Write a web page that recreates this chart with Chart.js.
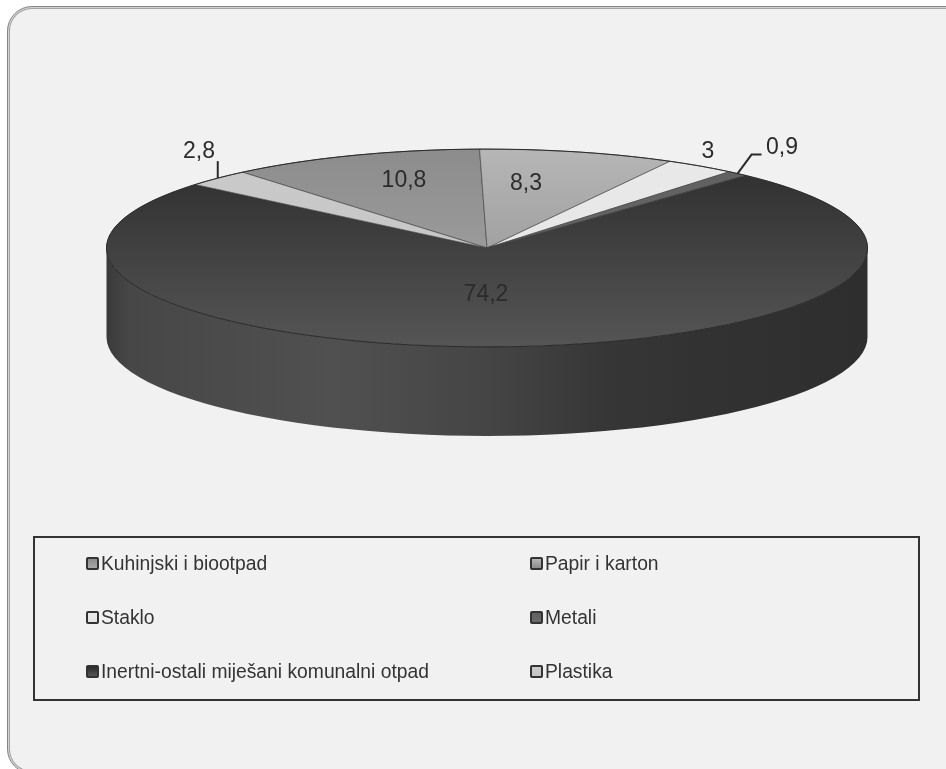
<!DOCTYPE html>
<html>
<head>
<meta charset="utf-8">
<script src="https://cdn.jsdelivr.net/npm/chart.js@4"></script>
<style>
  html, body { margin: 0; padding: 0; width: 946px; height: 769px; overflow: hidden; background: #fff; }
  #panel { position: absolute; left: 7px; top: 6px; width: 1000px; height: 768px; box-sizing: border-box;
           background: #f1f1f1; border: 1px solid #858585; border-radius: 25px;
           box-shadow: inset 0 0 0 1px #d4d4d4, inset 0 0 0 2px #a4a4a4; }
  canvas { position: absolute; left: 0; top: 0; }
  #legend { position: absolute; left: 33px; top: 536px; width: 887px; height: 165px; box-sizing: border-box;
            border: 2px solid #333; }
  .item { position: absolute; font: 19.3px "Liberation Sans", Arial, sans-serif; color: #333; line-height: 22px; white-space: nowrap; }
  .swatch { position: absolute; left: -15px; top: 4px; width: 13px; height: 13px; box-sizing: border-box;
            border: 2px solid #333; border-radius: 2px; }
</style>
</head>
<body>
<div id="panel"></div>
<canvas id="pie" width="946" height="769"></canvas>
<div id="legend"></div>
<script>
// Podaci ocitani sa slike
const categories = ['Kuhinjski i biootpad', 'Papir i karton', 'Staklo', 'Metali', 'Inertni-ostali miješani komunalni otpad', 'Plastika'];
const values = [10.8, 8.3, 3, 0.9, 74.2, 2.8];
const valueLabels = ['10,8', '8,3', '3', '0,9', '74,2', '2,8'];

// Izgled
const topColors = ['#8c8c8c', '#b6b6b6', '#e9e9e9', '#606060', '#2c2c2c', '#cacaca'];
const bottomColors = ['#a8a8a8', '#8c8c8c', '#e4e4e4', '#6a6a6a', '#555555', '#c4c4c4'];
const labelOffsets = [[-83, -67], [39, -64], [221, -96], [295, -100], [-1, 47], [-288, -96]];

const SQUASH = 0.26;
const CENTER_Y = 248;
const DEPTH = 89;

function wallPath(ctx, a, start, end) {
    const n = 60;
    ctx.beginPath();
    for (let i = 0; i <= n; i++) {
        const t = start + (end - start) * i / n;
        const px = a.x + a.outerRadius * Math.cos(t);
        const py = CENTER_Y + a.outerRadius * SQUASH * Math.sin(t);
        if (i === 0) ctx.moveTo(px, py); else ctx.lineTo(px, py);
    }
    for (let i = n; i >= 0; i--) {
        const t = start + (end - start) * i / n;
        ctx.lineTo(a.x + a.outerRadius * Math.cos(t), CENTER_Y + DEPTH + a.outerRadius * SQUASH * Math.sin(t));
    }
    ctx.closePath();
}

const pie3d = {
    id: 'pie3d',
    beforeDatasetsDraw(chart) {
        const ctx = chart.ctx;
        const arcs = chart.getDatasetMeta(0).data;
        const r = arcs[0].outerRadius, x = arcs[0].x, y = arcs[0].y;

        // bocna stijena, samo prednja polovica
        const wall = ctx.createLinearGradient(x - r, 0, x + r, 0);
        wall.addColorStop(0, '#3a3a3a');
        wall.addColorStop(0.03, '#474747');
        wall.addColorStop(0.3, '#505050');
        wall.addColorStop(0.5, '#454545');
        wall.addColorStop(0.66, '#363636');
        wall.addColorStop(0.78, '#323232');
        wall.addColorStop(1, '#2e2e2e');
        ctx.save();
        wallPath(ctx, arcs[0], 0, Math.PI);
        ctx.fillStyle = wall;
        ctx.fill();
        ctx.restore();

        // gornja ploha se spljosti
        ctx.save();
        ctx.translate(0, CENTER_Y);
        ctx.scale(1, SQUASH);
        ctx.translate(0, -y);
    },
    afterDatasetsDraw(chart) {
        const ctx = chart.ctx;
        ctx.restore();
        const arcs = chart.getDatasetMeta(0).data;
        const a = arcs[0];

        ctx.save();
        // rub gornje plohe
        ctx.strokeStyle = '#2a2a2a';
        ctx.lineWidth = 1;
        ctx.beginPath();
        ctx.ellipse(a.x, CENTER_Y, a.outerRadius, a.outerRadius * SQUASH, 0, 0, 2 * Math.PI);
        ctx.stroke();

        // oznake vrijednosti
        ctx.font = '23px "Liberation Sans", Arial, sans-serif';
        ctx.fillStyle = '#2b2b2b';
        ctx.textAlign = 'center';
        ctx.textBaseline = 'middle';
        valueLabels.forEach((txt, i) => {
            ctx.fillText(txt, a.x + labelOffsets[i][0], CENTER_Y + labelOffsets[i][1]);
        });

        // linije do malih isjecaka
        ctx.strokeStyle = '#2b2b2b';
        ctx.lineWidth = 2;
        const rim = i => {
            const m = (arcs[i].startAngle + arcs[i].endAngle) / 2;
            return [a.x + a.outerRadius * Math.cos(m), CENTER_Y + a.outerRadius * SQUASH * Math.sin(m)];
        };
        const p = rim(5);
        ctx.beginPath();
        ctx.moveTo(p[0], p[1]);
        ctx.lineTo(p[0], p[1] - 17);
        ctx.stroke();
        const q = rim(3);
        ctx.beginPath();
        ctx.moveTo(q[0], q[1]);
        ctx.lineTo(q[0] + 14, q[1] - 19);
        ctx.lineTo(q[0] + 24, q[1] - 19);
        ctx.stroke();
        ctx.restore();
    }
};

const cv = document.getElementById('pie');
const g = cv.getContext('2d');
const fills = values.map((v, i) => {
    const grad = g.createLinearGradient(0, 3, 0, 765);
    grad.addColorStop(0, topColors[i]);
    grad.addColorStop(1, bottomColors[i]);
    return grad;
});

new Chart(cv, {
    type: 'pie',
    data: {
        labels: categories,
        datasets: [{
            data: values,
            backgroundColor: fills,
            borderColor: '#404040',
            borderWidth: 1
        }]
    },
    options: {
        responsive: false,
        animation: false,
        rotation: -40,
        layout: { padding: { left: 106, right: 78, top: 3, bottom: 4 } },
        plugins: { legend: { display: false }, tooltip: { enabled: false } }
    },
    plugins: [pie3d]
});

// Legenda u dva stupca
const legend = document.getElementById('legend');
categories.forEach((name, i) => {
    const row = Math.floor(i / 2), col = i % 2;
    const item = document.createElement('div');
    item.className = 'item';
    item.style.left = (col ? 510 : 66) + 'px';
    item.style.top = (15 + row * 54) + 'px';
    item.textContent = name;
    const sw = document.createElement('span');
    sw.className = 'swatch';
    sw.style.background = 'linear-gradient(' + topColors[i] + ',' + bottomColors[i] + ')';
    item.appendChild(sw);
    legend.appendChild(item);
});
</script>
</body>
</html>
